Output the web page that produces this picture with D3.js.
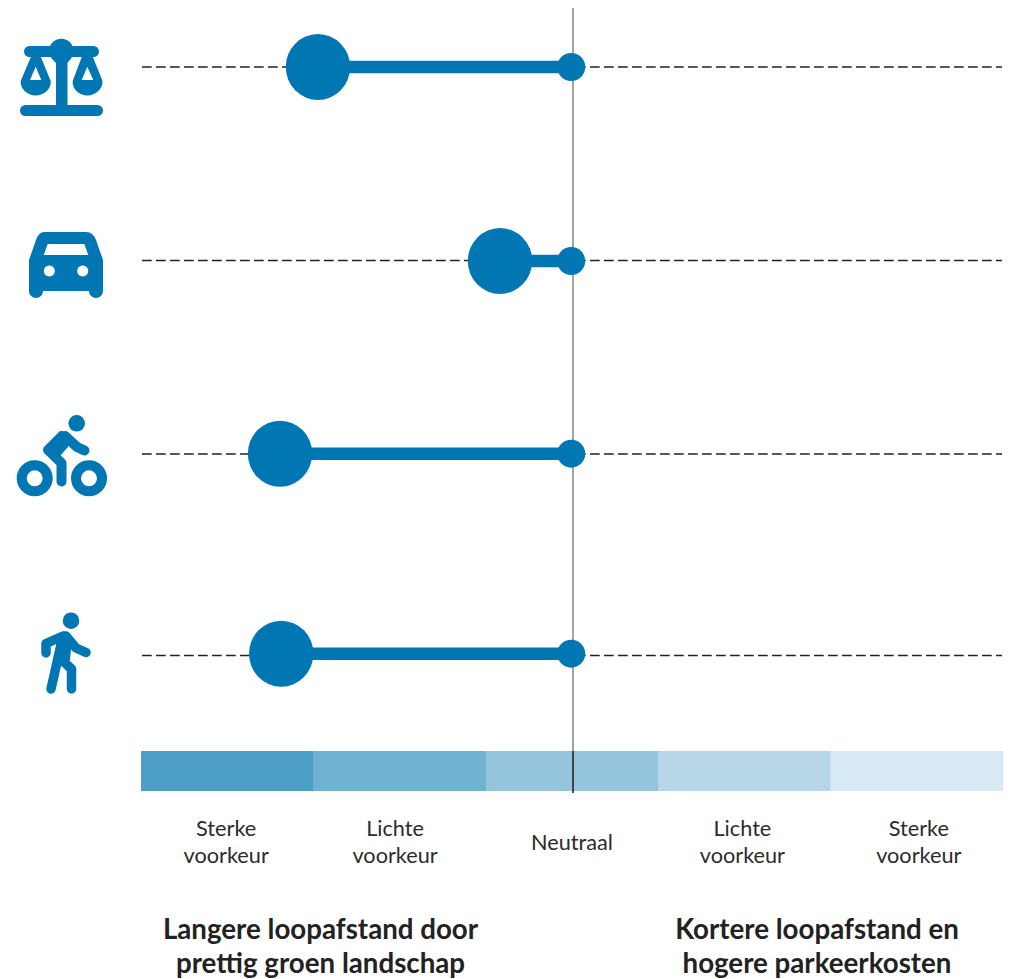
<!DOCTYPE html>
<html><head><meta charset="utf-8">
<script src="https://cdnjs.cloudflare.com/ajax/libs/d3/7.8.5/d3.min.js"></script>
<style>html,body{margin:0;padding:0;background:#fff}svg{display:block}text{font-family:Lato,"Noto Sans",sans-serif;text-anchor:middle}</style>
</head><body><svg id="c" width="1012" height="979"></svg>
<script>
// Data
const modes = ["Juridisch","Auto","Fiets","Lopen"];
const preference = [-1.469,-0.413,-1.689,-1.682];
const neutral = [0,0,0,0];
const bands = ["Sterke voorkeur links","Lichte voorkeur links","Neutraal","Lichte voorkeur rechts","Sterke voorkeur rechts"];
const bandLabels = [["Sterke","voorkeur"],["Lichte","voorkeur"],["Neutraal"],["Lichte","voorkeur"],["Sterke","voorkeur"]];
const bandColors = ["#4d9fc8","#70b2d1","#95c5dd","#b7d7e8","#d8ebf4"];
const headings = [["Langere loopafstand door","prettig groen landschap"],["Kortere loopafstand en","hogere parkeerkosten"]];

// Layout
const BLUE="#0077b3", INK="#2b2b2b";
const svg=d3.select("#c");
const x=d3.scaleLinear().domain([-2.5,2.5]).range([140.2,1002.2]);
const guideY=d3.scaleOrdinal().domain(modes).range([67,260.5,454,655.5]);
const y=d3.scaleOrdinal().domain(modes).range([67,261,453.7,653.7]);
const band=d3.scaleBand().domain(bands).range([141,1003]);
const labelNudge=[-1,-4.5,0,-2,2];
const headingX=[320.5,817];

// Icons, drawn in local pixel units
const icons={
 Juridisch(g){
  g.append("path").attr("fill-rule","evenodd").attr("d","M31.7 55 L40 55 L50.7 81 C51.5 89 44 95.5 35.7 95.5 C27.5 95.5 20 89 20.7 81 Z M35.7 66.7 L30 80 L41.3 80 Z M82.5 55 L92 55 L102.5 81 C103 89 95.5 95.5 87.3 95.5 C79 95.5 72 89 72.7 81 Z M87.3 66.7 L81.7 80 L93.3 80 Z");
  g.append("path").attr("fill","none").attr("stroke",BLUE).attr("stroke-width",11).attr("stroke-linecap","round").attr("d","M29.5 51.5 H93.5 M25.5 110.5 H97.5");
  g.append("rect").attr("x",56).attr("y",50).attr("width",11.5).attr("height",58);
  g.append("path").attr("fill-rule","evenodd").attr("d","M49 51 A12.3 12.3 0 0 1 73.6 51 Q73 58 67 63 H56 Q50 58 49 51 Z M61.3 47.5 a3.6 3.6 0 1 0 .01 0 Z");
 },
 Auto(g){
  g.append("path").attr("fill-rule","evenodd").attr("d","M44 232 H86 Q93 232 96 240 L103 260 V291 A7 7 0 0 1 89 291 H43 A7 7 0 0 1 29 291 V260 L36 240 Q39 232 44 232 Z M47.7 244 L43.7 255 H88.3 L84.3 244 Z M49.3 265.5 a5.5 5.5 0 1 0 .01 0 Z M82.7 265.5 a5.5 5.5 0 1 0 .01 0 Z");
 },
 Fiets(g){
  g.append("circle").attr("cx",76.7).attr("cy",423.3).attr("r",8.3);
  g.selectAll(".w").data([34.7,89]).join("circle").attr("cx",d=>d).attr("cy",478.3).attr("r",13).attr("fill","none").attr("stroke",BLUE).attr("stroke-width",10);
  g.append("path").attr("fill","none").attr("stroke",BLUE).attr("stroke-width",10).attr("stroke-linecap","round").attr("stroke-linejoin","round").attr("d","M62 436 L48 450 L61.5 463 V481.5 M65 436 L77 447 L84.5 450.5");
  g.append("path").attr("d","M60 431 L70 436 L68 447 L60 456 L47 450 Z");
 },
 Lopen(g){
  g.append("circle").attr("cx",71).attr("cy",620.7).attr("r",8.3);
  g.append("path").attr("fill","none").attr("stroke",BLUE).attr("stroke-width",9.5).attr("stroke-linecap","round").attr("stroke-linejoin","round").attr("d","M46 653 V643.5 L63 636 M66 636 L76 648 L86 652.5 M62 640 L51 689 M62 660 L71.5 669 V689");
  g.append("path").attr("d","M56 641 L64 631 L72 638 L70 660 L58 664 Z");
 }
};

// Bands
svg.append("g").selectAll("rect").data(bands).join("rect")
 .attr("x",d=>band(d)).attr("y",751).attr("width",band.bandwidth()+.4).attr("height",40)
 .attr("fill",(d,i)=>bandColors[i]);

// Dashed guides
svg.append("g").selectAll("line").data(modes).join("line")
 .attr("x1",142).attr("x2",1002).attr("y1",d=>guideY(d)).attr("y2",d=>guideY(d))
 .attr("stroke","#222").attr("stroke-width",1.5).attr("stroke-dasharray","9.7 4.3");

// Neutral axis
svg.append("line").attr("x1",573).attr("x2",573).attr("y1",8).attr("y2",793)
 .attr("stroke","#333").attr("stroke-opacity",.6).attr("stroke-width",1.5);
svg.append("line").attr("x1",573).attr("x2",573).attr("y1",751).attr("y2",793)
 .attr("stroke","#333").attr("stroke-width",1.5);

// Lollipops
const lol=svg.append("g").attr("fill",BLUE);
lol.selectAll(".stem").data(modes).join("line").attr("class","stem")
 .attr("x1",(d,i)=>x(preference[i])).attr("x2",(d,i)=>x(neutral[i]))
 .attr("y1",d=>y(d)).attr("y2",d=>y(d)).attr("stroke",BLUE).attr("stroke-width",12.5);
lol.selectAll(".n").data(modes).join("circle").attr("class","n")
 .attr("cx",(d,i)=>x(neutral[i])).attr("cy",d=>y(d)).attr("r",14);
lol.selectAll(".p").data(modes).join("ellipse").attr("class","p")
 .attr("cx",(d,i)=>x(preference[i])).attr("cy",d=>y(d)).attr("rx",32.2).attr("ry",33);

// Icons
modes.forEach(m=>icons[m](svg.append("g").attr("fill",BLUE)));

// Band labels
bandLabels.forEach((lines,i)=>{
 const cx=band(bands[i])+band.bandwidth()/2+labelNudge[i];
 const t=svg.append("text").attr("font-size",21.7).attr("fill",INK);
 const y0=lines.length===1?850:836;
 lines.forEach((l,k)=>t.append("tspan").attr("x",cx).attr("y",y0+k*27).text(l));
});
// Headings
headings.forEach((lines,i)=>{
 const t=svg.append("text").attr("font-size",27.7).attr("font-weight",700).attr("fill","#222");
 lines.forEach((l,k)=>t.append("tspan").attr("x",headingX[i]).attr("y",939+k*34).text(l));
});
</script></body></html>
